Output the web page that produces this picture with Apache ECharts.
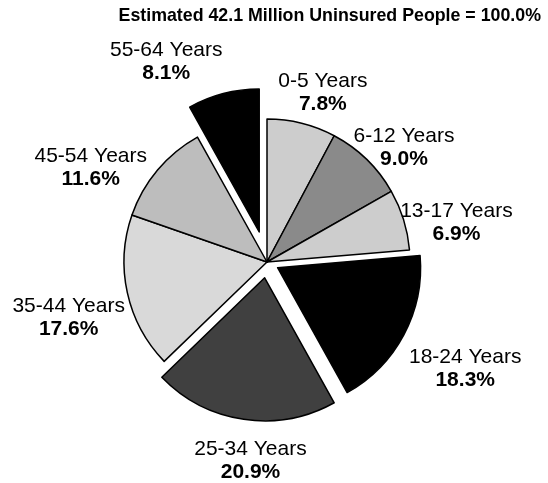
<!DOCTYPE html>
<html>
<head>
<meta charset="utf-8">
<script src="https://cdn.jsdelivr.net/npm/echarts@6/dist/echarts.min.js"></script>
<style>
html,body{margin:0;padding:0;background:#fff;}
#chart{width:548px;height:483px;}
</style>
</head>
<body>
<div id="chart"></div>
<script>
const titleText = 'Estimated 42.1 Million Uninsured People = 100.0%';
const categories = ['0-5 Years','6-12 Years','13-17 Years','18-24 Years','25-34 Years','35-44 Years','45-54 Years','55-64 Years'];
const values = [7.8, 9.0, 6.9, 18.3, 20.9, 17.6, 11.6, 8.1];
// styling
const colors = ['#cdcdcd','#8a8a8a','#cdcdcd','#000000','#404040','#d9d9d9','#bdbdbd','#000000'];
const explodeOffsets = [0,0,0,12,16,0,0,31];
const labelLengths = [34,32,48,65,42,57,52,36];
const labelNudges = [[8,2],[10,11],[2,17],[-1,3],[18,0],[2,13],[-22,31],[-43,3]];

const chart = echarts.init(document.getElementById('chart'), null, {renderer:'canvas'});

const groups = Array.from(new Set(explodeOffsets));
const series = groups.map(off => {
  const members = explodeOffsets.map(o => o === off);
  return {
    type:'pie',
    center:[267,262],
    radius:143,
    startAngle:90,
    clockwise:true,
    selectedMode:'multiple',
    selectedOffset:off,
    avoidLabelOverlap:false,
    silent:true,
    itemStyle:{borderColor:'#000', borderWidth:1.5},
    emphasis:{disabled:true},
    select:{itemStyle:{borderColor:'#000', borderWidth:1.5}},
    labelLine:{show:false, length:32, length2:0},
    label:{
      show:true, position:'outside', alignTo:'none',
      fontFamily:'Liberation Sans, Arial', color:'#000',
      formatter:p=>'{n|'+p.name+'}\n{p|'+p.value.toFixed(1)+'%}',
      rich:{
        n:{fontSize:21, fontFamily:'Liberation Sans, Arial', color:'#000', lineHeight:23, align:'center'},
        p:{fontSize:21, fontWeight:'bold', fontFamily:'Liberation Sans, Arial', color:'#000', lineHeight:23, align:'center'}
      }
    },
    labelLayout:function(p){
      const n = labelNudges[p.dataIndex];
      return {align:'center', verticalAlign:'middle', dx:n[0], dy:n[1]};
    },
    data:categories.map((c,i)=>members[i] ? {
      name:c, value:values[i], selected: off > 0,
      itemStyle:{color:colors[i]},
      labelLine:{show:false, length:labelLengths[i], length2:0}
    } : {
      name:c, value:values[i],
      itemStyle:{color:'rgba(0,0,0,0)', borderWidth:0},
      label:{show:false}, labelLine:{show:false}
    })
  };
});

chart.setOption({
  animation:false,
  title:{text:titleText, right:2, top:2, textStyle:{fontFamily:'Liberation Sans, Arial', fontWeight:'bold', fontSize:17.8, color:'#000'}},
  series:series
});
</script>
</body>
</html>
